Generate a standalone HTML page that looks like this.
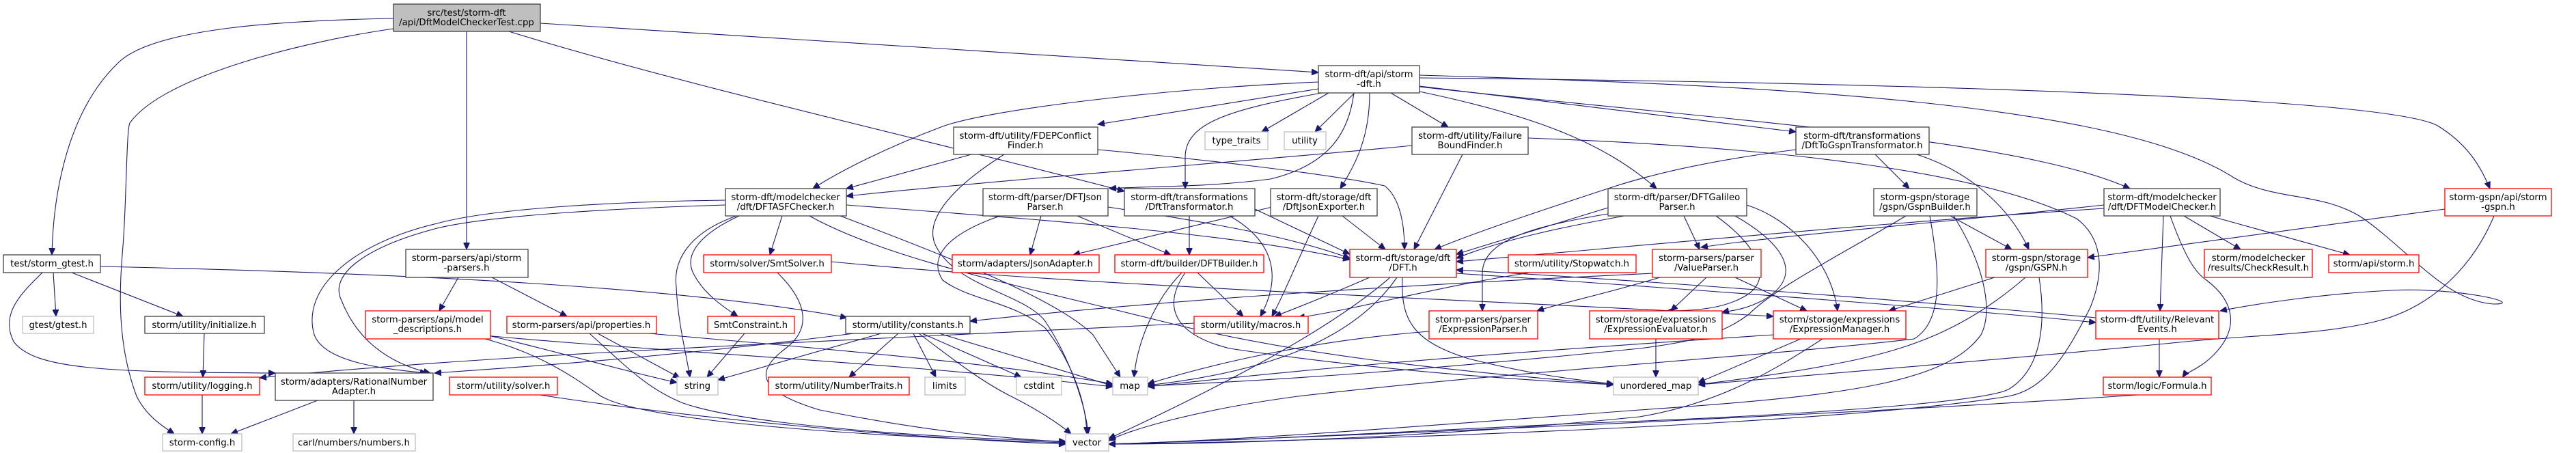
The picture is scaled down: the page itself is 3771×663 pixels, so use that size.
<!DOCTYPE html>
<html><head><meta charset="utf-8"><style>
html,body{margin:0;padding:0;background:#fff;}
svg{display:block;}
text{font-family:"DejaVu Sans","Liberation Sans",sans-serif;font-size:13.3px;fill:#000;text-anchor:middle;}
.e{fill:none;stroke:#191970;stroke-width:1.1;marker-end:url(#a);}
.b{fill:#fff;stroke:#404040;stroke-width:1.3;}
.r{fill:#fff;stroke:#ff0000;stroke-width:1.3;}
.g{fill:#fff;stroke:#bfbfbf;stroke-width:1.3;}
.t{fill:#bfbfbf;stroke:#404040;stroke-width:1.3;}
</style></head><body>
<svg width="3771" height="663" viewBox="0 0 3771 663" xmlns="http://www.w3.org/2000/svg">
<defs><marker id="a" markerWidth="11" markerHeight="9" refX="10" refY="4.5" orient="auto" markerUnits="userSpaceOnUse"><path d="M0,0 L10,4.5 L0,9 z" fill="#191970" stroke="#191970"/></marker></defs>
<g>
<path class="e" d="M576,27 C420,30 230,40 175,90 C100,160 78,280 76,373"/>
<path class="e" d="M576,42 C450,60 240,110 190,180 C185,190 185,300 180,360 C175,420 170,500 200,580 C215,610 240,625 255,635"/>
<path class="e" d="M683,46 L683,365"/>
<path class="e" d="M745,46 C1000,125 1400,215 1646,280"/>
<path class="e" d="M791,34 L1930,106"/>
<path class="e" d="M1930,120 C1700,130 1450,160 1380,185 C1300,215 1230,250 1190,276"/>
<path class="e" d="M1930,130 L1607,182"/>
<path class="e" d="M1945,136 L1847,193"/>
<path class="e" d="M1983,136 L1925,193"/>
<path class="e" d="M1935,136 C1800,160 1735,180 1735,230 L1735,276"/>
<path class="e" d="M2005,136 C2005,200 1985,240 1962,276"/>
<path class="e" d="M1982,136 C1975,190 1950,240 1860,262 C1760,275 1680,272 1624,276"/>
<path class="e" d="M2036,136 L2120,186"/>
<path class="e" d="M2078,134 C2250,170 2350,210 2425,276"/>
<path class="e" d="M2078,126 L2629,193"/>
<path class="e" d="M2078,127 C2500,175 2950,200 3118,276"/>
<path class="e" d="M2078,114 C2700,120 3500,140 3570,185 C3610,210 3630,240 3645,276"/>
<path class="e" d="M2078,110 C2600,125 3100,150 3270,260 C3330,295 3400,280 3460,320 C3530,370 3580,440 3650,445 C3700,445 3600,420 3500,425 C3400,430 3300,445 3250,455"/>
<path class="e" d="M1062,293 C900,295 720,305 640,327 C520,355 440,420 460,490 C475,530 560,540 625,546"/>
<path class="e" d="M1062,300 C900,305 720,315 640,334 C540,360 480,400 500,440 C520,490 560,530 630,546"/>
<path class="e" d="M1145,316 L1127,373"/>
<path class="e" d="M1082,316 C1030,340 1000,370 1015,400 C1030,430 1060,450 1080,463"/>
<path class="e" d="M1078,316 C1010,340 985,380 990,420 C992,470 1005,520 1010,552"/>
<path class="e" d="M1239,300 C1500,320 1800,340 1976,380"/>
<path class="e" d="M1185,316 C1300,380 1500,420 1700,470 C1900,520 2100,540 2362,563"/>
<path class="e" d="M1230,316 C1400,380 1550,440 1600,490 L1640,552"/>
<path class="e" d="M78,399 L82,463"/>
<path class="e" d="M105,399 L268,463"/>
<path class="e" d="M62,399 C30,430 0,460 20,500 C50,540 150,545 403,546"/>
<path class="e" d="M147,390 C600,400 1000,420 1240,465"/>
<path class="e" d="M299,488 L297,552"/>
<path class="e" d="M296,578 L296,635"/>
<path class="e" d="M465,586 L338,635"/>
<path class="e" d="M518,586 L518,635"/>
<path class="e" d="M671,406 L643,455"/>
<path class="e" d="M720,406 L830,463"/>
<path class="e" d="M710,490 C800,510 900,540 991,560"/>
<path class="e" d="M700,490 C900,510 1300,530 1629,566"/>
<path class="e" d="M710,496 C800,520 850,560 880,580 C950,620 1300,640 1560,648"/>
<path class="e" d="M875,488 L995,553"/>
<path class="e" d="M863,488 C920,540 950,570 1000,590 C1100,625 1400,642 1560,646"/>
<path class="e" d="M950,488 C1200,510 1450,530 1629,562"/>
<path class="e" d="M790,578 C1000,610 1300,640 1560,650"/>
<path class="e" d="M1090,488 L1035,552"/>
<path class="e" d="M1138,399 C1180,440 1190,480 1150,510 C1110,540 1100,570 1200,600 C1350,630 1450,640 1560,647"/>
<path class="e" d="M1217,383 C1600,420 2200,440 2596,463"/>
<path class="e" d="M1315,488 L1243,552"/>
<path class="e" d="M1337,488 L1370,552"/>
<path class="e" d="M1350,488 L1495,552"/>
<path class="e" d="M1375,488 L1630,565"/>
<path class="e" d="M1345,488 C1400,530 1440,560 1480,580 C1520,600 1550,620 1568,635"/>
<path class="e" d="M1290,488 L1051,556"/>
<path class="e" d="M1250,488 C1000,520 800,535 636,546"/>
<path class="e" d="M1748,473 C1200,500 700,520 380,553"/>
<path class="e" d="M1422,226 L1239,276"/>
<path class="e" d="M1607,219 C1750,232 1950,255 2027,272 C2050,290 2056,330 2056,365"/>
<path class="e" d="M1470,226 C1400,270 1350,320 1370,360 C1400,420 1500,430 1530,470 C1570,530 1590,600 1593,635"/>
<path class="e" d="M1524,316 L1508,373"/>
<path class="e" d="M1577,316 L1714,373"/>
<path class="e" d="M1622,303 C1800,330 1900,350 1976,378"/>
<path class="e" d="M1464,316 C1380,345 1360,380 1380,410 C1420,440 1480,440 1530,480 C1570,530 1590,590 1591,635"/>
<path class="e" d="M1741,316 L1741,373"/>
<path class="e" d="M1800,316 C1860,350 1880,400 1845,463"/>
<path class="e" d="M1837,306 L1976,372"/>
<path class="e" d="M1862,303 L1571,373"/>
<path class="e" d="M1965,316 L2028,365"/>
<path class="e" d="M1930,316 C1900,380 1880,430 1862,463"/>
<path class="e" d="M1753,399 L1820,463"/>
<path class="e" d="M1730,399 C1690,440 1665,500 1660,552"/>
<path class="e" d="M1735,399 C1700,450 1720,490 1800,510 C2000,540 2200,555 2362,563"/>
<path class="e" d="M2005,406 C1950,430 1900,450 1866,463"/>
<path class="e" d="M2035,406 C1950,480 1800,560 1623,642"/>
<path class="e" d="M2045,406 C1980,500 1850,545 1680,564"/>
<path class="e" d="M2053,406 C2050,470 2070,500 2150,525 C2250,550 2310,556 2362,562"/>
<path class="e" d="M2132,400 C2500,425 2900,455 3068,472"/>
<path class="e" d="M3068,465 C2800,440 2400,410 2132,395"/>
<path class="e" d="M2420,400 C2000,420 1700,440 1420,470"/>
<path class="e" d="M2240,399 C2100,420 2000,450 1900,465"/>
<path class="e" d="M2354,304 L2132,372"/>
<path class="e" d="M2378,316 C2300,330 2200,350 2132,378"/>
<path class="e" d="M2360,312 C2250,330 2170,350 2170,400 L2170,455"/>
<path class="e" d="M2465,316 L2488,365"/>
<path class="e" d="M2557,300 C2620,320 2680,380 2690,455"/>
<path class="e" d="M2540,316 C2600,350 2650,400 2580,440 C2550,455 2530,455 2521,457"/>
<path class="e" d="M2512,316 C2560,350 2600,400 2560,430 C2530,450 2490,455 2440,455"/>
<path class="e" d="M2430,406 C2350,430 2280,445 2250,455"/>
<path class="e" d="M2540,406 L2645,455"/>
<path class="e" d="M2498,406 L2446,455"/>
<path class="e" d="M2424,496 L2424,552"/>
<path class="e" d="M2636,496 C2580,520 2520,545 2486,560"/>
<path class="e" d="M2668,496 C2600,540 2520,590 2400,610 C2100,640 1800,650 1623,650"/>
<path class="e" d="M2092,485 C1900,500 1750,540 1680,562"/>
<path class="e" d="M2596,490 C2300,510 2000,530 1680,566"/>
<path class="e" d="M2745,226 L2795,276"/>
<path class="e" d="M2806,226 C2880,250 2940,300 2970,365"/>
<path class="e" d="M2629,219 C2500,235 2420,255 2366,272 C2250,310 2160,340 2100,365"/>
<path class="e" d="M2855,316 L2945,365"/>
<path class="e" d="M2790,316 C2700,370 2600,420 2560,460 C2520,490 2480,500 2400,510 C2100,540 1900,555 1680,565"/>
<path class="e" d="M2825,316 C2840,400 2845,470 2802,496 C2600,520 2200,545 1900,580 C1750,600 1650,630 1623,645"/>
<path class="e" d="M2860,316 C2900,380 2920,450 2900,490 C2850,560 2700,580 2400,600 C2000,630 1800,645 1623,650"/>
<path class="e" d="M2920,406 L2765,455"/>
<path class="e" d="M2965,406 C2880,480 2800,510 2700,530 C2600,550 2520,558 2486,563"/>
<path class="e" d="M2985,406 C2995,470 2990,540 2940,570 C2900,590 2600,610 2300,620 C2000,635 1800,645 1623,650"/>
<path class="e" d="M3197,316 L3280,365"/>
<path class="e" d="M3235,316 L3440,373"/>
<path class="e" d="M3167,316 L3162,455"/>
<path class="e" d="M3177,316 C3200,380 3215,400 3230,410 C3270,440 3280,480 3240,520 C3220,540 3200,545 3195,552"/>
<path class="e" d="M3080,305 C2700,330 2400,360 2132,383"/>
<path class="e" d="M3080,300 C2800,330 2600,345 2490,362"/>
<path class="e" d="M2067,213 C1900,230 1500,260 1239,287"/>
<path class="e" d="M2141,226 L2070,365"/>
<path class="e" d="M2237,202 C2600,215 2900,250 3040,320 C3080,350 3080,400 3060,450 C3020,530 2990,570 2940,580 C2700,620 2000,645 1623,650"/>
<path class="e" d="M3579,306 L3056,377"/>
<path class="e" d="M3651,316 C3620,390 3560,450 3480,470 C3400,490 3300,490 3200,500 C3000,520 2700,545 2486,563"/>
<path class="e" d="M3161,496 L3161,552"/>
<path class="e" d="M3130,578 C2800,600 2200,630 1623,650"/>
</g>
<g>
<rect class="t" x="576" y="6" width="215" height="40"/><text x="683" y="23">src/test/storm-dft</text><text x="683" y="37">/api/DftModelCheckerTest.cpp</text>
<rect class="b" x="1930" y="96" width="148" height="40"/><text x="2004" y="113">storm-dft/api/storm</text><text x="2004" y="127">-dft.h</text>
<rect class="b" x="5" y="373" width="142" height="26"/><text x="76" y="390">test/storm_gtest.h</text>
<rect class="g" x="33" y="463" width="104" height="25"/><text x="85" y="480">gtest/gtest.h</text>
<rect class="b" x="212" y="463" width="175" height="25"/><text x="299" y="480">storm/utility/initialize.h</text>
<rect class="r" x="212" y="552" width="168" height="26"/><text x="296" y="569">storm/utility/logging.h</text>
<rect class="b" x="403" y="546" width="231" height="40"/><text x="518" y="563">storm/adapters/RationalNumber</text><text x="518" y="577">Adapter.h</text>
<rect class="g" x="238" y="635" width="116" height="25"/><text x="296" y="652">storm-config.h</text>
<rect class="g" x="429" y="635" width="179" height="25"/><text x="518" y="652">carl/numbers/numbers.h</text>
<rect class="b" x="594" y="365" width="179" height="41"/><text x="683" y="382">storm-parsers/api/storm</text><text x="683" y="396">-parsers.h</text>
<rect class="r" x="535" y="455" width="183" height="41"/><text x="626" y="472">storm-parsers/api/model</text><text x="626" y="486">_descriptions.h</text>
<rect class="r" x="742" y="463" width="219" height="25"/><text x="851" y="480">storm-parsers/api/properties.h</text>
<rect class="b" x="1062" y="276" width="177" height="40"/><text x="1150" y="293">storm-dft/modelchecker</text><text x="1150" y="307">/dft/DFTASFChecker.h</text>
<rect class="r" x="1030" y="373" width="187" height="26"/><text x="1123" y="390">storm/solver/SmtSolver.h</text>
<rect class="r" x="1036" y="463" width="127" height="25"/><text x="1099" y="480">SmtConstraint.h</text>
<rect class="r" x="658" y="552" width="158" height="26"/><text x="737" y="569">storm/utility/solver.h</text>
<rect class="g" x="991" y="552" width="60" height="26"/><text x="1021" y="569">string</text>
<rect class="b" x="1238" y="463" width="182" height="25"/><text x="1329" y="480">storm/utility/constants.h</text>
<rect class="r" x="1125" y="552" width="206" height="26"/><text x="1228" y="569">storm/utility/NumberTraits.h</text>
<rect class="b" x="1396" y="186" width="211" height="40"/><text x="1501" y="203">storm-dft/utility/FDEPConflict</text><text x="1501" y="217">Finder.h</text>
<rect class="g" x="1764" y="193" width="92" height="26"/><text x="1810" y="210">type_traits</text>
<rect class="b" x="1439" y="276" width="183" height="40"/><text x="1530" y="293">storm-dft/parser/DFTJson</text><text x="1530" y="307">Parser.h</text>
<rect class="b" x="1646" y="276" width="191" height="40"/><text x="1741" y="293">storm-dft/transformations</text><text x="1741" y="307">/DftTransformator.h</text>
<rect class="r" x="1394" y="373" width="215" height="26"/><text x="1501" y="390">storm/adapters/JsonAdapter.h</text>
<rect class="r" x="1632" y="373" width="218" height="26"/><text x="1741" y="390">storm-dft/builder/DFTBuilder.h</text>
<rect class="r" x="1748" y="463" width="167" height="25"/><text x="1831" y="480">storm/utility/macros.h</text>
<rect class="g" x="1354" y="552" width="59" height="26"/><text x="1383" y="569">limits</text>
<rect class="g" x="1488" y="552" width="66" height="26"/><text x="1521" y="569">cstdint</text>
<rect class="g" x="1629" y="552" width="51" height="26"/><text x="1654" y="569">map</text>
<rect class="g" x="1560" y="635" width="63" height="25"/><text x="1591" y="652">vector</text>
<rect class="g" x="1880" y="193" width="61" height="26"/><text x="1910" y="210">utility</text>
<rect class="b" x="2067" y="186" width="170" height="40"/><text x="2152" y="203">storm-dft/utility/Failure</text><text x="2152" y="217">BoundFinder.h</text>
<rect class="b" x="1860" y="276" width="156" height="40"/><text x="1938" y="293">storm-dft/storage/dft</text><text x="1938" y="307">/DftJsonExporter.h</text>
<rect class="r" x="1976" y="365" width="156" height="41"/><text x="2054" y="382">storm-dft/storage/dft</text><text x="2054" y="396">/DFT.h</text>
<rect class="r" x="2208" y="373" width="187" height="26"/><text x="2301" y="390">storm/utility/Stopwatch.h</text>
<rect class="b" x="2354" y="276" width="203" height="40"/><text x="2455" y="293">storm-dft/parser/DFTGalileo</text><text x="2455" y="307">Parser.h</text>
<rect class="r" x="2419" y="365" width="159" height="41"/><text x="2498" y="382">storm-parsers/parser</text><text x="2498" y="396">/ValueParser.h</text>
<rect class="r" x="2092" y="455" width="159" height="41"/><text x="2171" y="472">storm-parsers/parser</text><text x="2171" y="486">/ExpressionParser.h</text>
<rect class="r" x="2327" y="455" width="194" height="41"/><text x="2424" y="472">storm/storage/expressions</text><text x="2424" y="486">/ExpressionEvaluator.h</text>
<rect class="g" x="2362" y="552" width="124" height="26"/><text x="2424" y="569">unordered_map</text>
<rect class="b" x="2629" y="186" width="195" height="40"/><text x="2726" y="203">storm-dft/transformations</text><text x="2726" y="217">/DftToGspnTransformator.h</text>
<rect class="b" x="2743" y="276" width="151" height="40"/><text x="2818" y="293">storm-gspn/storage</text><text x="2818" y="307">/gspn/GspnBuilder.h</text>
<rect class="r" x="2907" y="365" width="149" height="41"/><text x="2981" y="382">storm-gspn/storage</text><text x="2981" y="396">/gspn/GSPN.h</text>
<rect class="r" x="2596" y="455" width="194" height="41"/><text x="2693" y="472">storm/storage/expressions</text><text x="2693" y="486">/ExpressionManager.h</text>
<rect class="r" x="3068" y="455" width="180" height="41"/><text x="3158" y="472">storm-dft/utility/Relevant</text><text x="3158" y="486">Events.h</text>
<rect class="b" x="3080" y="276" width="170" height="40"/><text x="3165" y="293">storm-dft/modelchecker</text><text x="3165" y="307">/dft/DFTModelChecker.h</text>
<rect class="r" x="3079" y="552" width="158" height="26"/><text x="3158" y="569">storm/logic/Formula.h</text>
<rect class="r" x="3579" y="276" width="156" height="40"/><text x="3657" y="293">storm-gspn/api/storm</text><text x="3657" y="307">-gspn.h</text>
<rect class="r" x="3227" y="365" width="158" height="41"/><text x="3306" y="382">storm/modelchecker</text><text x="3306" y="396">/results/CheckResult.h</text>
<rect class="r" x="3409" y="373" width="132" height="26"/><text x="3475" y="390">storm/api/storm.h</text>
</g>
</svg>
</body></html>
